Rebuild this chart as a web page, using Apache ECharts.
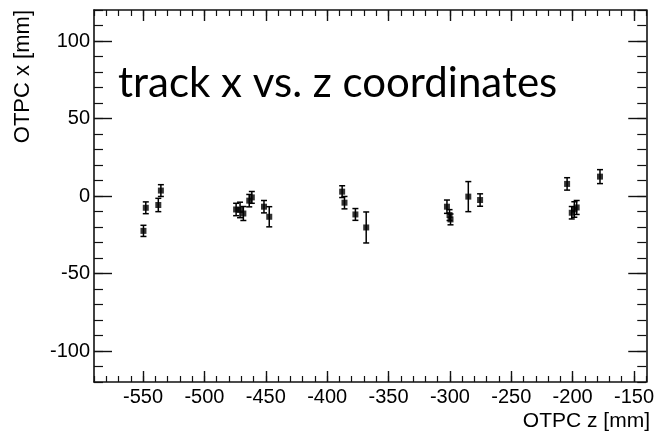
<!DOCTYPE html>
<html>
<head>
<meta charset="utf-8">
<script src="https://cdn.jsdelivr.net/npm/echarts@6/dist/echarts.min.js"></script>
<style>
  html, body { margin: 0; padding: 0; background: #fff; }
  #chart { width: 657px; height: 431px; }
</style>
</head>
<body>
<div id="chart"></div>
<script>
// Reconstructed track points: z position, x position and x uncertainty (mm)
const trackZ = [-549.7, -547.8, -537.6, -535.5, -474.2, -471.0, -468.3, -463.5, -461.4, -451.5, -447.2,
                -387.8, -385.9, -377.0, -368.2, -302.4, -300.3, -299.5, -285.0, -275.4,
                -204.5, -200.7, -198.6, -196.7, -177.7];
const trackX = [-22.5, -7.6, -5.8, 3.5, -8.7, -9.0, -11.3, -3.0, -0.9, -6.9, -13.4,
                2.8, -4.3, -11.9, -20.3, -6.9, -12.3, -15.1, -0.4, -2.6,
                7.8, -10.8, -8.7, -7.4, 12.5];
const trackXErr = [3.6, 3.8, 4.3, 3.8, 4.0, 5.0, 4.5, 4.0, 3.8, 4.0, 6.5,
                   3.8, 4.0, 3.8, 10.0, 4.3, 3.5, 3.5, 9.7, 4.0,
                   4.0, 4.0, 5.0, 4.5, 4.5];

// Axis ranges and labelled tick values
const zRange = [-590, -140];
const xRange = [-120, 120];
const zMajorTicks = [-550, -500, -450, -400, -350, -300, -250, -200, -150];
const xMajorTicks = [-100, -50, 0, 50, 100];
const minorStep = 10;

const titleText = 'track x vs. z coordinates';
const zAxisTitle = 'OTPC z [mm]';
const xAxisTitle = 'OTPC x [mm]';

const points = trackZ.map((z, i) => [z, trackX[i], trackXErr[i]]);

const ink = '#111';
const frameLine = { show: true, onZero: false, lineStyle: { color: ink, width: 1.6 } };
const labelFont = { fontFamily: 'Liberation Sans, Arial, sans-serif', fontSize: 20, color: '#000' };

function majorAxis(range, ticks, position, len, showLabel, margin) {
  return {
    type: 'value', min: range[0], max: range[1], position: position,
    axisLine: frameLine,
    axisTick: { show: true, inside: true, length: len, customValues: ticks, lineStyle: { color: ink, width: 1.4 } },
    axisLabel: Object.assign({ show: showLabel, customValues: ticks, margin: margin || 4 }, labelFont),
    splitLine: { show: false }
  };
}
function minorAxis(range, position, len) {
  return {
    type: 'value', min: range[0], max: range[1], interval: minorStep, position: position,
    axisLine: { show: false, onZero: false },
    axisTick: { show: true, inside: true, length: len, lineStyle: { color: ink, width: 1.2 } },
    axisLabel: { show: false },
    splitLine: { show: false }
  };
}

const chart = echarts.init(document.getElementById('chart'), null, { renderer: 'canvas' });
chart.setOption({
  animation: false,
  backgroundColor: '#fff',
  grid: { left: 94, right: 7, top: 10, bottom: 49, containLabel: false },
  xAxis: [
    majorAxis(zRange, zMajorTicks, 'bottom', 11, true, 5),
    minorAxis(zRange, 'bottom', 6),
    majorAxis(zRange, zMajorTicks, 'top', 11, false),
    minorAxis(zRange, 'top', 6)
  ],
  yAxis: [
    majorAxis(xRange, xMajorTicks, 'left', 18, true, 4),
    minorAxis(xRange, 'left', 9),
    majorAxis(xRange, xMajorTicks, 'right', 18, false),
    minorAxis(xRange, 'right', 9)
  ],
  graphic: [
    {
      type: 'text', left: 118, top: 62, z: 10,
      style: { text: titleText, font: '42px Lato, "Open Sans", sans-serif', fill: '#000' }
    },
    {
      type: 'text', right: 7, top: 411, z: 10,
      style: { text: zAxisTitle, font: '21px "Liberation Sans", Arial, sans-serif', fill: '#000' }
    },
    {
      type: 'text', left: 12, top: 10, rotation: Math.PI / 2, z: 10,
      style: { text: xAxisTitle, font: '22px "Liberation Sans", Arial, sans-serif', fill: '#000' }
    }
  ],
  series: [
    {
      type: 'custom', xAxisIndex: 0, yAxisIndex: 0, z: 3,
      data: points,
      renderItem: function (params, api) {
        const z = api.value(0), x = api.value(1), e = api.value(2);
        const hi = api.coord([z, x + e]);
        const lo = api.coord([z, x - e]);
        const cap = 3;
        const st = { stroke: '#000', lineWidth: 1.5 };
        return {
          type: 'group',
          children: [
            { type: 'line', shape: { x1: hi[0], y1: hi[1], x2: lo[0], y2: lo[1] }, style: st },
            { type: 'line', shape: { x1: hi[0] - cap, y1: hi[1], x2: hi[0] + cap, y2: hi[1] }, style: st },
            { type: 'line', shape: { x1: lo[0] - cap, y1: lo[1], x2: lo[0] + cap, y2: lo[1] }, style: st }
          ]
        };
      }
    },
    {
      type: 'scatter', xAxisIndex: 0, yAxisIndex: 0, z: 4,
      symbol: 'rect', symbolSize: 6,
      itemStyle: { color: '#000' },
      data: points.map(p => [p[0], p[1]])
    }
  ]
});
</script>
</body>
</html>
